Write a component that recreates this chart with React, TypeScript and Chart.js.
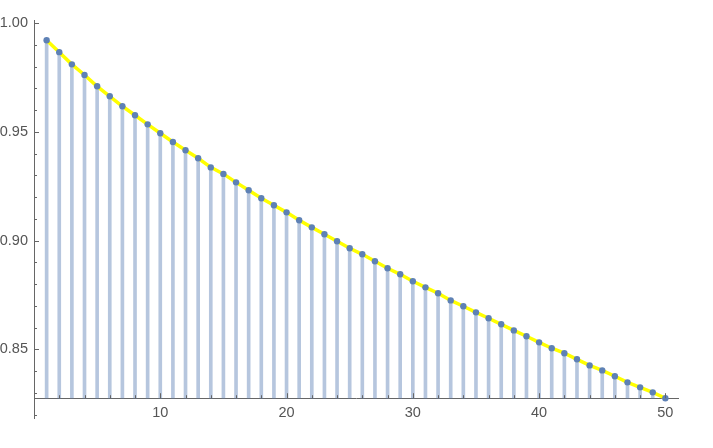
import React, { useEffect, useRef } from "react";
import { Chart, registerables } from "chart.js";

Chart.register(...registerables);

const N_VALUES = [
  1, 2, 3, 4, 5, 6, 7, 8, 9, 10, 11, 12, 13, 14, 15, 16, 17, 18, 19, 20, 21, 22, 23, 24, 25,
  26, 27, 28, 29, 30, 31, 32, 33, 34, 35, 36, 37, 38, 39, 40, 41, 42, 43, 44, 45, 46, 47, 48, 49, 50,
];

const VALUES = [
  0.9922, 0.9867, 0.9811, 0.9762, 0.971, 0.9664, 0.9618, 0.9577, 0.9535, 0.9494,
  0.9454, 0.9416, 0.9379, 0.9337, 0.9307, 0.9268, 0.9232, 0.9195, 0.9163, 0.913,
  0.9094, 0.9061, 0.9029, 0.8997, 0.8965, 0.8937, 0.8905, 0.8873, 0.8845, 0.8813,
  0.8785, 0.8758, 0.8725, 0.8698, 0.867, 0.8643, 0.8615, 0.8587, 0.856, 0.8532,
  0.8505, 0.8482, 0.8454, 0.8426, 0.8403, 0.8376, 0.8348, 0.8325, 0.8302, 0.8275,
];

const X_LABEL_TICKS = [10, 20, 30, 40, 50];
const X_MINOR_TICKS = [2, 4, 6, 8, 12, 14, 16, 18, 22, 24, 26, 28, 32, 34, 36, 38, 42, 44, 46, 48];
const Y_LABEL_TICKS = [0.85, 0.9, 0.95, 1.0];
const Y_MINOR_TICKS = [
  0.82, 0.83, 0.84, 0.86, 0.87, 0.88, 0.89, 0.91, 0.92, 0.93, 0.94, 0.96, 0.97, 0.98, 0.99,
];

const X_MIN = 0;
const X_MAX = 51;
const Y_MIN = 0.8184;
const Y_MAX = 1.0015;
const AXIS_Y = Math.min(...VALUES);

const AXIS_COLOR = "#666666";
const LABEL_COLOR = "#555555";
const FONT_FAMILY = "'Liberation Sans', Arial, sans-serif";
const FONT_SIZE = 14.5;

const inwardTicks = {
  id: "inwardTicks",
  afterDatasetsDraw(chart: any) {
    const { ctx, scales } = chart;
    const xs = scales.x;
    const ys = scales.y;
    const left = ys.right;
    const axisPix = ys.getPixelForValue(AXIS_Y);
    ctx.save();
    ctx.strokeStyle = AXIS_COLOR;
    ctx.lineWidth = 1;
    ctx.beginPath();
    const yTick = (v: number, len: number) => {
      const p = Math.round(ys.getPixelForValue(v)) + 0.5;
      ctx.moveTo(left, p);
      ctx.lineTo(left + len, p);
    };
    const xTick = (v: number, len: number) => {
      const p = Math.round(xs.getPixelForValue(v)) + 0.5;
      ctx.moveTo(p, axisPix);
      ctx.lineTo(p, axisPix - len);
    };
    Y_LABEL_TICKS.forEach((v) => yTick(v, 5));
    Y_MINOR_TICKS.forEach((v) => yTick(v, 3));
    X_LABEL_TICKS.forEach((v) => xTick(v, 5));
    X_MINOR_TICKS.forEach((v) => xTick(v, 3));
    ctx.stroke();
    ctx.restore();
  },
};

export default function App() {
  const ref = useRef<HTMLCanvasElement>(null);

  useEffect(() => {
    const points = N_VALUES.map((n, i) => ({ x: n, y: VALUES[i] }));
    const stems = N_VALUES.map((n, i) => ({ x: n, y: [AXIS_Y, VALUES[i]] }));
    const chart = new Chart(ref.current as HTMLCanvasElement, {
      type: "bar",
      data: {
        datasets: [
          {
            type: "scatter",
            data: points,
            pointRadius: 3.2,
            pointBorderWidth: 0,
            pointBackgroundColor: "#5E81B5",
            borderColor: "#5E81B5",
            order: 1,
          } as any,
          {
            type: "line",
            data: points,
            borderColor: "#FFFF00",
            borderWidth: 3.5,
            pointRadius: 0,
            tension: 0,
            fill: false,
            order: 2,
          } as any,
          {
            type: "bar",
            data: stems,
            backgroundColor: "rgba(94,129,181,0.45)",
            borderWidth: 0,
            barThickness: 3,
            order: 3,
          } as any,
        ],
      },
      options: {
        animation: false,
        responsive: false,
        events: [],
        layout: { padding: { left: 0, top: 20, right: 35, bottom: 30 } },
        plugins: {
          legend: { display: false },
          tooltip: { enabled: false },
        },
        scales: {
          x: {
            type: "linear",
            min: X_MIN,
            max: X_MAX,
            offset: false,
            position: { y: AXIS_Y } as any,
            grid: { display: false, drawTicks: false },
            border: { display: true, color: AXIS_COLOR, width: 1 },
            ticks: {
              padding: 6,
              color: LABEL_COLOR,
              font: { family: FONT_FAMILY, size: FONT_SIZE },
              maxRotation: 0,
              autoSkip: false,
              callback: (v: any) => String(v),
            },
            afterBuildTicks: (s: any) => {
              s.ticks = X_LABEL_TICKS.map((v) => ({ value: v }));
            },
            afterFit: (s: any) => {
              s.height = 0;
            },
          },
          y: {
            type: "linear",
            min: Y_MIN,
            max: Y_MAX,
            grid: { display: false, drawTicks: false },
            border: { display: true, color: AXIS_COLOR, width: 1 },
            ticks: {
              padding: 6,
              color: LABEL_COLOR,
              font: { family: FONT_FAMILY, size: FONT_SIZE },
              autoSkip: false,
              callback: (v: any) => Number(v).toFixed(2),
            },
            afterBuildTicks: (s: any) => {
              s.ticks = Y_LABEL_TICKS.map((v) => ({ value: v }));
            },
            afterFit: (s: any) => {
              s.width = 34;
            },
          },
        },
      } as any,
      plugins: [inwardTicks],
    });
    return () => chart.destroy();
  }, []);

  return (
    <div style={{ position: "fixed", left: 0, top: 0, width: 713, height: 448, background: "#fff" }}>
      <canvas ref={ref} width={713} height={448} style={{ display: "block" }} />
    </div>
  );
}
